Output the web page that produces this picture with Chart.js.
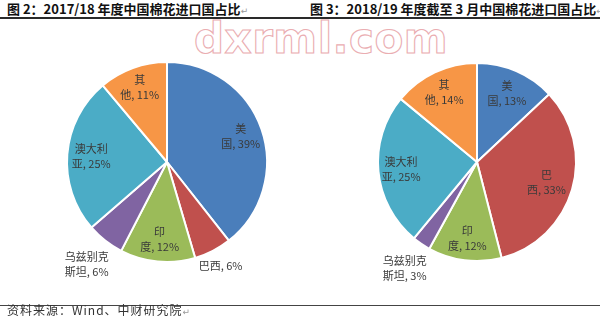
<!DOCTYPE html>
<html lang="zh">
<head>
    <meta charset="UTF-8">
    <title>中国棉花进口国占比</title>
    <script src="https://cdn.jsdelivr.net/npm/chart.js"></script>
    <style>
        body { margin: 0; width: 600px; height: 329px; background: #fff; position: relative; overflow: hidden;
               font-family: "Noto Sans CJK SC", "DejaVu Sans", sans-serif; }
        .title { position: absolute; top: 1px; font-size: 13px; font-weight: bold; line-height: 16px; color: #111; white-space: nowrap; }
        .mark { font-size: 9px; font-weight: normal; color: #999; }
        .rule { position: absolute; left: 0; width: 600px; }
        #site { position: absolute; left: 194px; top: 14px; font-family: "DejaVu Sans", sans-serif; font-weight: bold;
                font-size: 42px; letter-spacing: 0.5px; color: transparent; -webkit-text-stroke: 1.1px #eaadb1;
                transform-origin: left top; transform: scaleX(1.0); white-space: nowrap; }
        #source { position: absolute; left: 7px; top: 303px; font-size: 12px; letter-spacing: 1px; line-height: 14px; color: #333; }
        canvas { position: absolute; top: 20px; }
    </style>
</head>
<body>
    <div class="title" style="left:7px">图 2：2017/18 年度中国棉花进口国占比<span class="mark">↵</span></div>
    <div class="title" style="left:310px">图 3：2018/19 年度截至 3 月中国棉花进口国占比<span class="mark">↵</span></div>
    <div class="rule" style="top:17px; height:2px; background:#2a2a2a"></div>
    <div id="site">dxrml.com</div>

    <canvas id="pie1718" width="300" height="284" style="left:0"></canvas>
    <canvas id="pie1819" width="300" height="284" style="left:300px"></canvas>

    <div class="rule" style="top:305px; height:1px; background:#444"></div>
    <div id="source">资料来源：Wind、中财研究院<span class="mark">↵</span></div>

    <script>
        // import share by origin, %
        const categories = ['美国', '巴西', '印度', '乌兹别克斯坦', '澳大利亚', '其他'];
        const share1718 = [39, 6, 12, 6, 25, 11];
        const share1819 = [13, 33, 12, 3, 25, 14];

        const sliceColors = ['#4a7ebb', '#c0504d', '#9bbb59', '#8064a2', '#4bacc6', '#f79646'];

        // where each label sits (fraction of radius) and how many chars go on its first line
        const labelRadius1718 = [0.78, 1.17, 0.78, 1.3, 0.76, 0.8];
        const labelBreak1718 = [1, 0, 1, 4, 3, 1];
        const labelRadius1819 = [0.76, 0.73, 0.78, 1.3, 0.77, 0.78];
        const labelBreak1819 = [1, 1, 1, 4, 3, 1];

        // draws "name, xx%" labels at the middle angle of each slice
        const sliceLabels = {
            id: 'sliceLabels',
            afterDatasetsDraw(chart, args, opts) {
                const ctx = chart.ctx;
                const values = chart.data.datasets[0].data;
                ctx.save();
                ctx.font = '11px "Noto Sans CJK SC", sans-serif';
                ctx.fillStyle = '#3a3a3a';
                ctx.textAlign = 'center';
                ctx.textBaseline = 'middle';
                chart.getDatasetMeta(0).data.forEach((arc, i) => {
                    const p = arc.getProps(['x', 'y', 'startAngle', 'endAngle', 'outerRadius'], true);
                    const mid = (p.startAngle + p.endAngle) / 2;
                    const r = p.outerRadius * opts.radius[i];
                    const x = p.x + Math.cos(mid) * r;
                    const y = p.y + Math.sin(mid) * r;
                    const name = chart.data.labels[i];
                    const k = opts.breakAt[i];
                    const tail = name.slice(k) + ', ' + values[i] + '%';
                    const lines = k ? [name.slice(0, k), tail] : [tail];
                    const lh = 15;
                    lines.forEach((t, j) => {
                        ctx.fillText(t, x, y + (j - (lines.length - 1) / 2) * lh);
                    });
                });
                ctx.restore();
            }
        };

        function makePie(id, values, radius, breakAt, padding) {
            return new Chart(document.getElementById(id), {
                type: 'pie',
                data: {
                    labels: categories,
                    datasets: [{
                        data: values,
                        backgroundColor: sliceColors,
                        borderColor: '#ffffff',
                        borderWidth: 2
                    }]
                },
                options: {
                    responsive: false,
                    animation: false,
                    layout: { padding: padding },
                    plugins: {
                        legend: { display: false },
                        tooltip: { enabled: false },
                        sliceLabels: { radius: radius, breakAt: breakAt }
                    }
                },
                plugins: [sliceLabels]
            });
        }

        makePie('pie1718', share1718, labelRadius1718, labelBreak1718, { left: 66, right: 32, top: 41, bottom: 41 });
        makePie('pie1819', share1819, labelRadius1819, labelBreak1819, { left: 77, right: 23, top: 42, bottom: 42 });
    </script>
</body>
</html>
